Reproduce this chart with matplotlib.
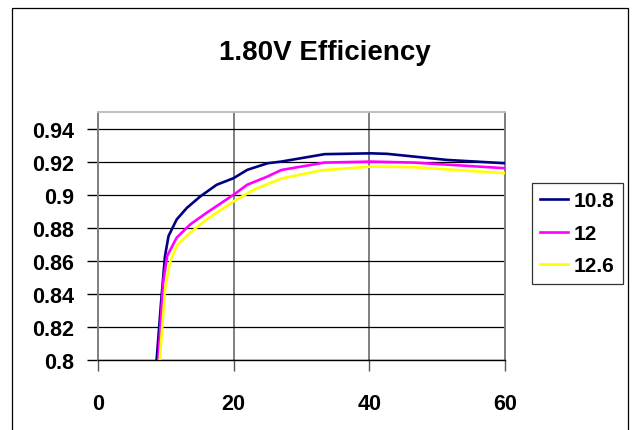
import matplotlib
matplotlib.use("Agg")
import matplotlib.pyplot as plt
from matplotlib.patches import Rectangle

plt.rcParams['font.family'] = ['Liberation Sans', 'DejaVu Sans']

title = "1.80V Efficiency"
series_names = ["10.8", "12", "12.6"]
x_108 = [8.64, 9.3, 9.88, 10.4, 11.6, 13.1, 15.1, 17.5, 20, 22, 25, 27, 33.4, 40.2, 42.6, 51.5, 60]
y_108 = [0.800, 0.835, 0.863, 0.875, 0.885, 0.892, 0.899, 0.906, 0.910, 0.915, 0.919, 0.920, 0.9245, 0.925, 0.9247, 0.921, 0.919]
x_12 = [8.9, 9.6, 10.2, 11.6, 13.6, 16, 20, 22, 25, 27, 33.4, 40.2, 46.6, 60]
y_12 = [0.800, 0.847, 0.863, 0.874, 0.882, 0.889, 0.900, 0.906, 0.911, 0.9149, 0.9194, 0.920, 0.9194, 0.916]
x_126 = [9.1, 9.9, 10.6, 11.6, 13.6, 16, 20, 23, 27, 32.9, 40.2, 46.6, 60]
y_126 = [0.800, 0.843, 0.859, 0.869, 0.877, 0.885, 0.896, 0.903, 0.9097, 0.9147, 0.917, 0.9166, 0.913]
colors = ["#000080", "#FF00FF", "#FFFF00"]
x_ticks = [0, 20, 40, 60]
y_ticks = [0.8, 0.82, 0.84, 0.86, 0.88, 0.9, 0.92, 0.94]
y_tick_labels = ["0.8", "0.82", "0.84", "0.86", "0.88", "0.9", "0.92", "0.94"]

W, H = 639, 431
fig = plt.figure(figsize=(W / 100, H / 100), dpi=100)
fig.patch.set_facecolor("white")

# outer chart border
fig.patches.append(Rectangle((11.5 / W, -0.05), (628 - 11.5) / W, (H - 8.5) / H + 0.05,
                             transform=fig.transFigure, fill=False, edgecolor="black",
                             linewidth=0.9))

left, right, top, bottom = 98, 505, 113, 361
ax = fig.add_axes([left / W, (H - bottom) / H, (right - left) / W, (bottom - top) / H])

for xs, ys, c, name in zip([x_108, x_12, x_126], [y_108, y_12, y_126], colors, series_names):
    ax.plot(xs, ys, color=c, linewidth=1.9, label=name, zorder=3, solid_joinstyle="round")

ax.set_xlim(0, 60)
ax.set_ylim(0.8, 0.95)
ax.set_xticks(x_ticks)
ax.set_xticklabels([str(v) for v in x_ticks])
ax.set_yticks(y_ticks)
ax.set_yticklabels(y_tick_labels)

for t in ax.get_xticklabels() + ax.get_yticklabels():
    t.set_fontweight("bold")
    t.set_fontsize(15.5)

ax.tick_params(axis="x", length=8, width=1, color="#555555", pad=16, direction="out")
ax.tick_params(axis="y", length=8, width=1, color="black", pad=9, direction="out")

ax.yaxis.grid(True, color="black", linewidth=0.9)
ax.xaxis.grid(True, color="#7f7f7f", linewidth=1.4)
ax.set_axisbelow(True)

ax.spines["left"].set_color("#7f7f7f")
ax.spines["left"].set_linewidth(1.4)
ax.spines["right"].set_color("#7f7f7f")
ax.spines["right"].set_linewidth(1.4)
ax.spines["top"].set_color("#bfbfbf")
ax.spines["top"].set_linewidth(1.4)
ax.spines["bottom"].set_color("black")
ax.spines["bottom"].set_linewidth(1.0)

fig.text((217 + 432) / 2 / W, 1 - 53 / H, title, ha="center", va="center",
         fontsize=20, fontweight="bold")

leg = fig.legend(loc="upper left", bbox_to_anchor=(532 / W, 1 - 184 / H),
                 frameon=True, fancybox=False, edgecolor="black",
                 prop={"weight": "bold", "size": 15}, handlelength=1.35,
                 handletextpad=0.25, borderpad=0.4, labelspacing=0.65,
                 borderaxespad=0)
leg.get_frame().set_linewidth(0.9)

fig.savefig("out.png", dpi=100, facecolor="white")
